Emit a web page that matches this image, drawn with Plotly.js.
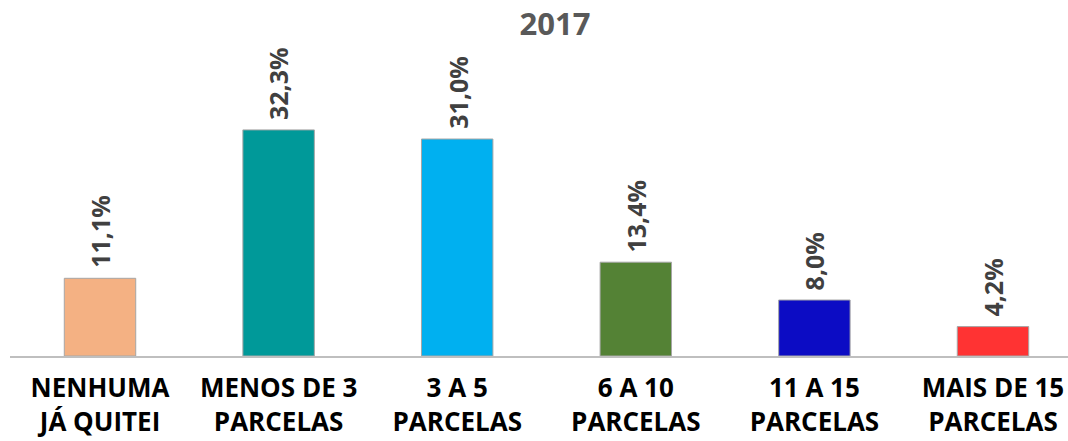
<!DOCTYPE html>
<html>
<head>
<meta charset="utf-8">
<script src="https://cdn.plot.ly/plotly-3.0.1.min.js"></script>
<style>html,body{margin:0;padding:0;background:#fff;}#chart{width:1068px;height:441px;}</style>
</head>
<body>
<div id="chart"></div>
<script>
const categories = ["NENHUMA<br>JÁ QUITEI", "MENOS DE 3<br>PARCELAS", "3 A 5<br>PARCELAS", "6 A 10<br>PARCELAS", "11 A 15<br>PARCELAS", "MAIS DE 15<br>PARCELAS"];
const values = [11.1, 32.3, 31.0, 13.4, 8.0, 4.2];
const valueLabels = ["11,1%", "32,3%", "31,0%", "13,4%", "8,0%", "4,2%"];
const barColors = ["#F4B183", "#009999", "#00B0F0", "#548235", "#0C0CC4", "#FF3333"];
const chartTitle = "2017";

const idx = categories.map((c, i) => i);
const FONT = "Open Sans, Liberation Sans, sans-serif";

const trace = {
  type: "bar",
  x: idx,
  y: values,
  width: 0.4,
  marker: { color: barColors, line: { color: "#A6A6A6", width: 1 } },
  hoverinfo: "skip"
};

const annotations = idx.map(i => ({
  x: i, y: values[i], xref: "x", yref: "y",
  text: valueLabels[i], textangle: -90,
  showarrow: false, yanchor: "bottom", xanchor: "center", yshift: 8,
  font: { family: FONT, size: 25, color: "#404040", weight: "bold" }
}));

const layout = {
  width: 1068, height: 441,
  margin: { l: 10, r: 0, t: 0, b: 85 },
  paper_bgcolor: "#ffffff", plot_bgcolor: "#ffffff",
  showlegend: false,
  title: {
    text: "<b>" + chartTitle + "</b>",
    xref: "paper", x: (555 - 10) / 1058, xanchor: "center",
    yref: "container", y: 1 - 24 / 441, yanchor: "middle",
    font: { family: FONT, size: 31, color: "#595959" }
  },
  xaxis: {
    range: [-0.504, 5.42],
    tickmode: "array", tickvals: idx, ticktext: categories.map(c => "<b>" + c + "</b>"),
    tickfont: { family: FONT, size: 26, color: "#000000" },
    ticklabelstandoff: 8,
    showline: true, linecolor: "#BFBFBF", linewidth: 2,
    showgrid: false, zeroline: false, ticks: "", fixedrange: true
  },
  yaxis: {
    range: [0, 356 / 7.0],
    visible: false, showgrid: false, zeroline: false, fixedrange: true
  },
  annotations: annotations
};

Plotly.newPlot("chart", [trace], layout, { displayModeBar: false, staticPlot: true });
</script>
</body>
</html>
